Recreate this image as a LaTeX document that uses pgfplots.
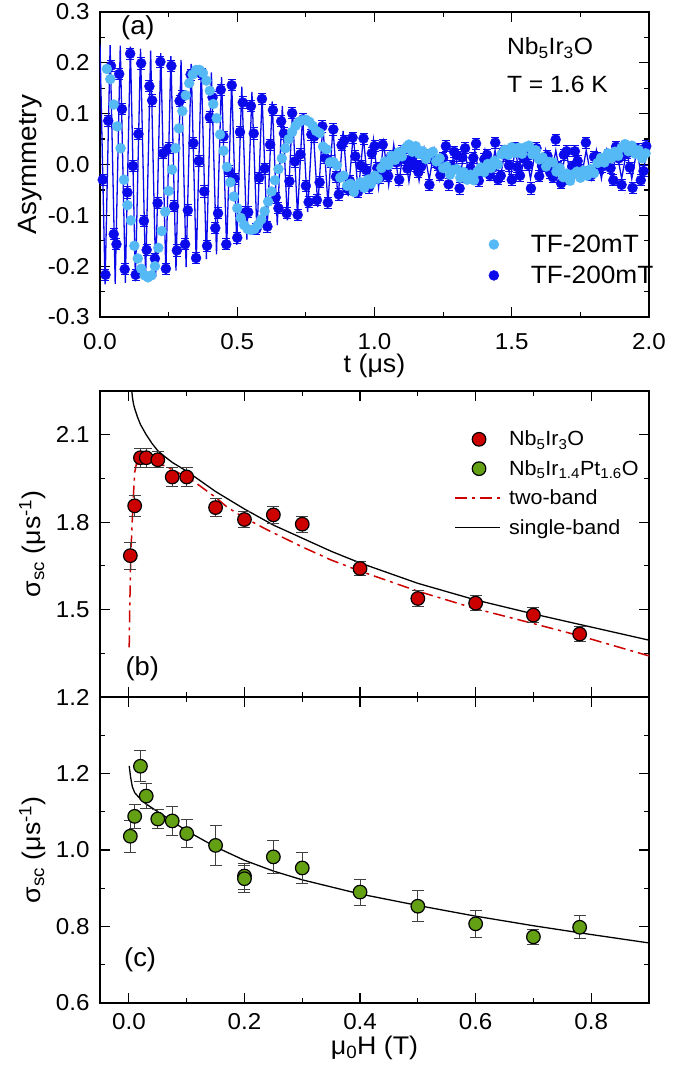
\documentclass[border=0pt]{standalone}
\usepackage{fontspec}
\setmainfont{Liberation Sans}[FakeStretch=1.05]
\usepackage{pgfplots}
\pgfplotsset{compat=1.18}
\definecolor{dblue}{RGB}{10,10,235}
\definecolor{lblue}{RGB}{85,185,245}
\definecolor{mred}{RGB}{205,0,0}
\definecolor{mgreen}{RGB}{100,160,20}
\pgfplotsset{
  myax/.style={scale only axis, width=549pt,
    axis line style={line width=1.3pt},
    major tick length=10pt, minor tick length=5pt,
    every tick/.style={line width=1.2pt, black},
    tick align=inside, xtick pos=both, ytick pos=both,
    ticklabel style={font=\fontsize{23}{27}\selectfont},
    yticklabel style={xshift=-7pt},
    /pgf/number format/assume math mode=true,
    /pgf/number format/.cd, fixed, fixed zerofill, precision=1, /pgfplots/.cd,
    label style={font=\fontsize{25.5}{30}\selectfont},
    legend cell align=left},
  legmarkA/.style={legend image code/.code={\draw[##1] plot coordinates {(0pt,0pt)}; \path[draw=none,fill=none] (0pt,0pt) -- (35pt,0pt);}},
  legmarkB/.style={legend image code/.code={\draw[##1] plot coordinates {(24pt,0pt)}; \path[draw=none,fill=none] (0pt,0pt) -- (52pt,0pt);}},
  leglineB/.style={legend image code/.code={\draw[##1] (0pt,0pt) -- (45pt,0pt); \path[draw=none,fill=none] (0pt,0pt) -- (52pt,0pt);}},
}
\begin{document}
\begin{tikzpicture}
\useasboundingbox (0pt,0pt) rectangle (698pt,1070pt);
% ---------------- panel (a)
\begin{axis}[myax, height=305pt, at={(100pt,753pt)}, anchor=south west,
  xmin=0, xmax=2, ymin=-0.3, ymax=0.3,
  xtick={0,0.5,1,1.5,2}, minor xtick={0.25,0.75,1.25,1.75},
  ytick={-0.3,-0.2,-0.1,0,0.1,0.2,0.3}, minor ytick={-0.25,-0.15,-0.05,0.05,0.15,0.25},
  xticklabel style={yshift=-13pt},
  xlabel={t (μs)}, ylabel={Asymmetry},
  xlabel style={at={(axis description cs:0.5,-0.16)}, anchor=center},
  ylabel style={at={(axis description cs:-0.128,0.5)}, anchor=center, font=\fontsize{26.5}{31}\selectfont},
  legend style={draw=none, fill=none, at={(axis description cs:1.012,0.098)}, anchor=south east,
    font=\fontsize{25}{30}\selectfont, row sep=8pt, inner sep=0pt},
]
% fit line TF-200mT
\addplot[dblue, line width=1.3pt, forget plot] table {
0.0000 0.236
0.0185 -0.236
0.0369 0.235
0.0554 -0.235
0.0738 0.234
0.0923 -0.233
0.1107 0.232
0.1292 -0.230
0.1476 0.228
0.1661 -0.226
0.1845 0.224
0.2030 -0.221
0.2214 0.219
0.2399 -0.216
0.2583 0.213
0.2768 -0.209
0.2952 0.206
0.3137 -0.202
0.3321 0.198
0.3506 -0.194
0.3690 0.190
0.3875 -0.186
0.4059 0.181
0.4244 -0.177
0.4428 0.172
0.4613 -0.167
0.4797 0.162
0.4982 -0.158
0.5166 0.153
0.5351 -0.148
0.5535 0.143
0.5720 -0.138
0.5904 0.134
0.6089 -0.129
0.6273 0.124
0.6458 -0.119
0.6642 0.115
0.6827 -0.110
0.7011 0.106
0.7196 -0.101
0.7380 0.097
0.7565 -0.093
0.7749 0.088
0.7934 -0.084
0.8118 0.080
0.8303 -0.077
0.8487 0.073
0.8672 -0.069
0.8856 0.066
0.9041 -0.062
0.9225 0.059
0.9410 -0.056
0.9594 0.053
0.9779 -0.050
0.9963 0.048
1.0148 -0.045
1.0332 0.043
1.0517 -0.041
1.0701 0.039
1.0886 -0.037
1.1070 0.035
1.1255 -0.034
1.1439 0.033
1.1624 -0.032
1.1808 0.031
1.1993 -0.030
1.2177 0.029
1.2362 -0.029
1.2546 0.029
1.2731 -0.029
1.2915 0.028
1.3100 -0.028
1.3284 0.028
1.3469 -0.028
1.3653 0.028
1.3838 -0.028
1.4022 0.028
1.4207 -0.028
1.4391 0.028
1.4576 -0.028
1.4760 0.028
1.4945 -0.028
1.5129 0.028
1.5314 -0.028
1.5498 0.028
1.5683 -0.028
1.5867 0.028
1.6052 -0.028
1.6236 0.028
1.6421 -0.028
1.6605 0.028
1.6790 -0.028
1.6974 0.028
1.7159 -0.028
1.7343 0.028
1.7528 -0.028
1.7712 0.028
1.7897 -0.028
1.8081 0.028
1.8266 -0.028
1.8450 0.028
1.8635 -0.028
1.8819 0.028
1.9004 -0.028
1.9188 0.028
1.9373 -0.028
1.9557 0.028
1.9742 -0.028
1.9926 0.028
};
% data TF-200mT
\addplot[only marks, mark=*, mark size=5pt, color=dblue, forget plot,
  error bars/.cd, y dir=both, y fixed=0.011,
  error bar style={line width=0.8pt, dblue},
  error mark options={rotate=90, mark size=4pt, line width=0.8pt, dblue}] table {
0.01 -0.030
0.02 -0.217
0.03 0.086
0.04 0.194
0.05 -0.137
0.06 -0.157
0.07 0.178
0.08 0.109
0.09 -0.206
0.10 -0.055
0.11 0.218
0.12 -0.003
0.13 -0.217
0.14 0.060
0.15 0.199
0.16 -0.111
0.17 -0.168
0.18 0.154
0.19 0.126
0.20 -0.185
0.21 -0.076
0.22 0.202
0.23 0.022
0.24 -0.205
0.25 0.032
0.26 0.194
0.27 -0.082
0.28 -0.169
0.29 0.125
0.30 0.134
0.31 -0.157
0.32 -0.090
0.33 0.177
0.34 0.042
0.35 -0.184
0.36 0.007
0.37 0.178
0.38 -0.053
0.39 -0.160
0.40 0.093
0.41 0.132
0.42 -0.125
0.43 -0.096
0.44 0.147
0.45 0.055
0.46 -0.157
0.47 -0.013
0.48 0.156
0.49 -0.028
0.50 -0.144
0.51 0.064
0.52 0.122
0.53 -0.094
0.54 -0.094
0.55 0.115
0.56 0.061
0.57 -0.127
0.58 -0.026
0.59 0.129
0.60 -0.008
0.61 -0.122
0.62 0.039
0.63 0.107
0.64 -0.065
0.65 -0.086
0.66 0.085
0.67 0.061
0.68 -0.096
0.69 -0.033
0.70 0.101
0.71 0.006
0.72 -0.099
0.73 0.020
0.74 0.089
0.75 -0.042
0.76 -0.074
0.77 0.059
0.78 0.055
0.79 -0.070
0.80 -0.035
0.81 0.075
0.82 0.013
0.83 -0.075
0.84 0.006
0.85 0.069
0.86 -0.024
0.87 -0.059
0.88 0.038
0.89 0.047
0.90 -0.048
0.91 -0.032
0.92 0.053
0.93 0.016
0.94 -0.054
0.95 -0.002
0.96 0.051
0.97 -0.011
0.98 -0.045
0.99 0.022
1.00 0.036
1.01 -0.007
1.02 -0.026
1.03 0.039
1.04 -0.007
1.05 -0.023
1.06 0.016
1.07 0.017
1.08 0.004
1.09 -0.030
1.10 0.026
1.11 0.010
1.12 -0.008
1.13 0.002
1.14 0.016
1.15 -0.003
1.16 -0.015
1.17 -0.004
1.18 0.019
1.19 0.018
1.20 -0.040
1.21 0.013
1.22 0.006
1.23 -0.001
1.24 -0.021
1.25 0.013
1.26 0.036
1.27 -0.039
1.28 -0.003
1.29 0.025
1.30 0.018
1.31 -0.047
1.32 0.014
1.33 0.032
1.34 -0.024
1.35 -0.007
1.36 0.013
1.37 0.041
1.38 -0.032
1.39 -0.012
1.40 0.010
1.41 0.019
1.42 -0.021
1.43 -0.007
1.44 0.043
1.45 -0.029
1.46 -0.022
1.47 0.026
1.48 0.017
1.49 -0.002
1.50 -0.030
1.51 0.033
1.52 -0.005
1.53 -0.022
1.54 0.015
1.55 0.017
1.56 -0.001
1.57 -0.047
1.58 0.024
1.59 0.032
1.60 -0.023
1.61 -0.003
1.62 0.009
1.63 0.017
1.64 -0.016
1.65 -0.025
1.66 0.049
1.67 -0.004
1.68 -0.037
1.69 0.019
1.70 0.026
1.71 -0.029
1.72 -0.004
1.73 0.026
1.74 0.007
1.75 -0.011
1.76 -0.014
1.77 0.043
1.78 -0.015
1.79 -0.021
1.80 0.015
1.81 0.013
1.82 -0.007
1.83 -0.004
1.84 0.009
1.85 0.019
1.86 -0.007
1.87 -0.031
1.88 0.035
1.89 0.012
1.90 -0.040
1.91 0.020
1.92 0.022
1.93 -0.006
1.94 -0.046
1.95 0.029
1.96 0.030
1.97 -0.031
1.98 -0.013
1.99 0.036
};
% data TF-20mT
\addplot[only marks, mark=*, mark size=5pt, color=lblue, forget plot] table {
0.025 0.188
0.0375 0.168
0.05 0.118
0.0625 0.075
0.075 0.032
0.0875 -0.030
0.1 -0.080
0.1125 -0.110
0.125 -0.160
0.1375 -0.185
0.15 -0.205
0.1625 -0.218
0.175 -0.222
0.1875 -0.218
0.2 -0.200
0.2125 -0.164
0.225 -0.131
0.2375 -0.093
0.25 -0.052
0.2625 -0.010
0.275 0.032
0.2875 0.071
0.3 0.105
0.3125 0.136
0.325 0.160
0.3375 0.177
0.35 0.186
0.3625 0.186
0.375 0.180
0.3875 0.165
0.4 0.145
0.4125 0.119
0.425 0.091
0.4375 0.059
0.45 0.027
0.4625 -0.005
0.475 -0.035
0.4875 -0.063
0.5 -0.086
0.5125 -0.105
0.525 -0.119
0.5375 -0.127
0.55 -0.129
0.5625 -0.127
0.575 -0.119
0.5875 -0.108
0.6 -0.092
0.6125 -0.073
0.625 -0.053
0.6375 -0.031
0.65 -0.009
0.6625 0.012
0.675 0.032
0.6875 0.050
0.7 0.064
0.7125 0.076
0.725 0.084
0.7375 0.087
0.75 0.088
0.7625 0.084
0.775 0.076
0.7875 0.066
0.8 0.062
0.8125 0.035
0.825 0.030
0.8375 0.004
0.85 0.005
0.8625 -0.002
0.875 -0.026
0.8875 -0.022
0.9 -0.042
0.9125 -0.038
0.925 -0.054
0.9375 -0.041
0.95 -0.035
0.9625 -0.046
0.975 -0.030
0.9875 -0.038
1.0 -0.022
1.0125 -0.028
1.025 -0.007
1.0375 0.006
1.05 -0.001
1.0625 0.017
1.075 0.009
1.0875 0.024
1.1 0.016
1.1125 0.032
1.125 0.039
1.1375 0.025
1.15 0.036
1.1625 0.021
1.175 0.026
1.1875 0.011
1.2 0.021
1.2125 0.025
1.225 0.006
1.2375 0.012
1.25 -0.007
1.2625 -0.004
1.275 -0.020
1.2875 -0.011
1.3 -0.009
1.3125 -0.026
1.325 -0.015
1.3375 -0.030
1.35 -0.020
1.3625 -0.031
1.375 -0.014
1.3875 -0.006
1.4 -0.015
1.4125 0.001
1.425 -0.007
1.4375 0.007
1.45 0.000
1.4625 0.020
1.475 0.029
1.4875 0.019
1.5 0.034
1.5125 0.023
1.525 0.033
1.5375 0.021
1.55 0.034
1.5625 0.037
1.575 0.020
1.5875 0.028
1.6 0.010
1.6125 0.014
1.625 -0.004
1.6375 0.005
1.65 0.004
1.6625 -0.014
1.675 -0.007
1.6875 -0.025
1.7 -0.018
1.7125 -0.032
1.725 -0.019
1.7375 -0.014
1.75 -0.026
1.7625 -0.012
1.775 -0.022
1.7875 -0.009
1.8 -0.017
1.8125 0.003
1.825 0.013
1.8375 0.004
1.85 0.022
1.8625 0.012
1.875 0.025
1.8875 0.017
1.9 0.033
1.9125 0.040
1.925 0.026
1.9375 0.037
1.95 0.021
1.9625 0.028
1.975 0.012
1.9875 0.022
};
\addlegendimage{only marks, mark=*, mark size=5pt, color=lblue, legmarkA}
\addlegendentry{TF-20mT}
\addlegendimage{only marks, mark=*, mark size=5pt, color=dblue, legmarkA}
\addlegendentry{TF-200mT}
\node[anchor=center, font=\fontsize{26}{31}\selectfont] at (axis description cs:0.069,0.949) {(a)};
\node[anchor=west, inner sep=0pt, font=\fontsize{23.5}{28}\selectfont] at (axis description cs:0.741,0.882) {Nb\textsubscript{5}Ir\textsubscript{3}O};
\node[anchor=west, inner sep=0pt, font=\fontsize{23.5}{28}\selectfont] at (axis description cs:0.741,0.764) {T = 1.6 K};
\end{axis}
% ---------------- panel (b)
\begin{axis}[myax, height=306pt, at={(100pt,373pt)}, anchor=south west,
  xmin=-0.05, xmax=0.9, ymin=1.2, ymax=2.25,
  xtick={0,0.2,0.4,0.6,0.8}, minor xtick={0.1,0.3,0.5,0.7}, xticklabels={},
  ytick={1.2,1.5,1.8,2.1}, minor ytick={1.35,1.65,1.95},
  ylabel={σ\textsubscript{sc} (μs\textsuperscript{-1})},
  ylabel style={at={(axis description cs:-0.123,0.5)}, anchor=center},
  legend style={draw=none, fill=none, at={(axis description cs:0.645,0.876)}, anchor=north west,
    font=\fontsize{20.5}{24}\selectfont, row sep=9pt, inner sep=0pt},
]
\addplot[mred, line width=1.5pt, dash pattern=on 12pt off 5pt on 3pt off 5pt, forget plot] table {
0.0005 1.37
0.0015 1.50
0.0025 1.62
0.004 1.72
0.007 1.86
0.010 1.97
0.013 2.00
0.030 2.00
0.050 1.998
0.062 1.994
0.080 1.975
0.100 1.955
0.117 1.933
0.150 1.885
0.171 1.850
0.200 1.815
0.238 1.775
0.300 1.715
0.350 1.670
0.400 1.632
0.500 1.563
0.600 1.503
0.700 1.452
0.780 1.410
0.900 1.341
};
\addplot[black, line width=1.3pt, forget plot] table {
0.0045 2.26
0.006 2.23
0.008 2.205
0.010 2.19
0.015 2.16
0.020 2.135
0.030 2.10
0.040 2.07
0.050 2.045
0.062 2.025
0.075 2.005
0.100 1.975
0.150 1.905
0.200 1.845
0.250 1.790
0.300 1.745
0.350 1.700
0.400 1.660
0.500 1.590
0.600 1.533
0.700 1.485
0.800 1.440
0.900 1.395
};
\addplot[only marks, mark=*, mark size=6.8pt, mark options={fill=mred, draw=black, line width=1.2pt}, forget plot,
  error bars/.cd, y dir=both, y explicit,
  error bar style={line width=1pt, black!75},
  error mark options={rotate=90, mark size=6pt, line width=1pt, black!75}]
  table[x index=0, y index=1, y error index=2] {
0.0025 1.685 0.046
0.01 1.856 0.035
0.02 2.021 0.032
0.03 2.021 0.032
0.05 2.014 0.028
0.075 1.955 0.032
0.1 1.955 0.032
0.15 1.850 0.030
0.2 1.809 0.028
0.25 1.825 0.028
0.3 1.793 0.028
0.4 1.641 0.024
0.5 1.538 0.026
0.6 1.522 0.026
0.7 1.481 0.027
0.78 1.416 0.026
};
\addlegendimage{only marks, mark=*, mark size=6.8pt, mark options={fill=mred, draw=black, line width=1.2pt}, legmarkB}
\addlegendentry{Nb\textsubscript{5}Ir\textsubscript{3}O}
\addlegendimage{only marks, mark=*, mark size=6.8pt, mark options={fill=mgreen, draw=black, line width=1.2pt}, legmarkB}
\addlegendentry{Nb\textsubscript{5}Ir\textsubscript{1.4}Pt\textsubscript{1.6}O}
\addlegendimage{mred, line width=1.5pt, dash pattern=on 12pt off 5pt on 3pt off 5pt, leglineB}
\addlegendentry{two-band}
\addlegendimage{black, line width=1.3pt, leglineB}
\addlegendentry{single-band}
\node[anchor=center, font=\fontsize{26}{31}\selectfont] at (axis description cs:0.077,0.092) {(b)};
\end{axis}
% ---------------- panel (c)
\begin{axis}[myax, height=306pt, at={(100pt,67pt)}, anchor=south west,
  xmin=-0.05, xmax=0.9, ymin=0.6, ymax=1.4,
  xtick={0,0.2,0.4,0.6,0.8}, minor xtick={0.1,0.3,0.5,0.7},
  ytick={0.6,0.8,1.0,1.2}, minor ytick={0.7,0.9,1.1,1.3},
  xticklabel style={yshift=-7pt},
  xlabel={μ\textsubscript{0}H (T)},
  ylabel={σ\textsubscript{sc} (μs\textsuperscript{-1})},
  xlabel style={at={(axis description cs:0.5,-0.148)}, anchor=center},
  ylabel style={at={(axis description cs:-0.123,0.5)}, anchor=center},
]
\addplot[black, line width=1.3pt] table {
0.0005 1.220
0.003 1.190
0.006 1.165
0.010 1.150
0.020 1.133
0.030 1.120
0.050 1.100
0.075 1.075
0.100 1.050
0.150 1.008
0.200 0.973
0.250 0.945
0.300 0.922
0.400 0.885
0.500 0.855
0.600 0.827
0.700 0.802
0.800 0.779
0.900 0.757
};
\addplot[only marks, mark=*, mark size=6.8pt, mark options={fill=mgreen, draw=black, line width=1.2pt},
  error bars/.cd, y dir=both, y explicit,
  error bar style={line width=1pt, black!75},
  error mark options={rotate=90, mark size=6pt, line width=1pt, black!75}]
  table[x index=0, y index=1, y error index=2] {
0.0025 1.036 0.042
0.01 1.088 0.032
0.02 1.219 0.040
0.03 1.141 0.032
0.05 1.081 0.026
0.075 1.076 0.038
0.1 1.043 0.036
0.15 1.012 0.053
0.2 0.932 0.034
0.2 0.925 0.035
0.25 0.982 0.044
0.3 0.953 0.040
0.4 0.890 0.034
0.5 0.853 0.040
0.6 0.807 0.035
0.7 0.773 0.020
0.78 0.798 0.030
};
\node[anchor=center, font=\fontsize{26}{31}\selectfont] at (axis description cs:0.073,0.14) {(c)};
\end{axis}
\end{tikzpicture}
\end{document}
